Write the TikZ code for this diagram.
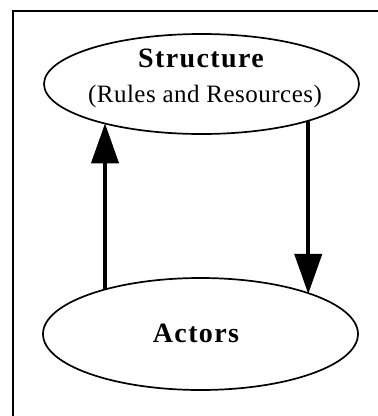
\documentclass[tikz,border=0pt]{standalone}
\usepackage{fontspec}
\setmainfont{Liberation Serif}
\usetikzlibrary{arrows.meta,shapes.geometric}
\begin{document}
\begin{tikzpicture}[x=1pt,y=1pt,
  frame/.style={line width=2.4pt},
  oval/.style={draw, ellipse, line width=1.7pt, inner sep=0pt, outer sep=0pt},
  flow/.style={line width=4pt, -{Triangle[length=40pt,width=27pt]}},
  heading/.style={anchor=base, inner sep=0pt, font=\fontsize{28}{30}\selectfont\bfseries\addfontfeature{LetterSpace=5}},
  subheading/.style={anchor=base, inner sep=0pt, font=\fontsize{25}{28}\selectfont\addfontfeature{LetterSpace=2}}]
\useasboundingbox (0,0) rectangle (378,-416);
% open frame: top and left edges only
\coordinate (fl) at (13,-416);
\coordinate (fc) at (13,-11);
\coordinate (fr) at (378,-11);
\draw[frame] (fl) -- (fc) -- (fr);
% the two ovals
\node[oval, minimum width=315pt, minimum height=100pt] (S) at (201.5,-84) {};
\node[oval, minimum width=315pt, minimum height=112pt] (A) at (200.5,-334) {};
% labels
\node[heading] (st) at (201,-67.5) {Structure};
\node[subheading] (rr) at (205,-102) {(Rules and Resources)};
\node[heading] (ac) at (196,-342.5) {Actors};
% connectors
\draw[flow] (A.155) -- (A.155 |- S.202.26);
\draw[flow] (S.341.25) -- (S.341.25 |- A.20.52);
\end{tikzpicture}
\end{document}
